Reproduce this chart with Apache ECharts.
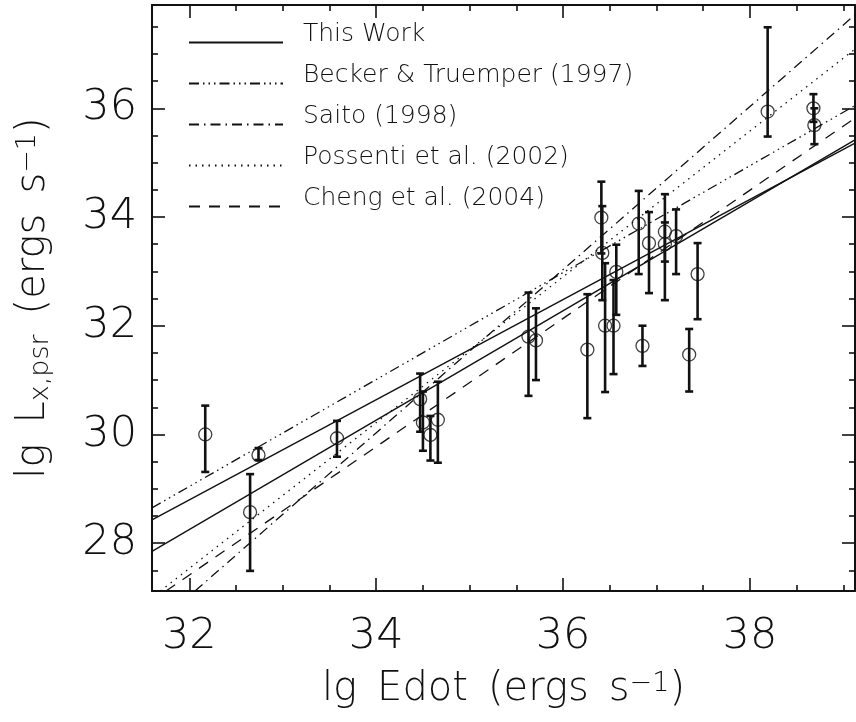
<!DOCTYPE html>
<html><head><meta charset="utf-8">
<script src="https://cdn.jsdelivr.net/npm/echarts@6/dist/echarts.min.js"></script>
<style>html,body{margin:0;padding:0;background:#fff}#c{width:856px;height:722px}</style>
</head><body><div id="c"></div>
<script>
// ---- data points (lg Edot, lg Lx) with error bar bounds ----
const edot   = [32.17, 32.74, 32.65, 33.58, 34.47, 34.50, 34.58, 34.66, 35.63, 35.71, 36.26, 36.41, 36.42, 36.57, 36.45, 36.54, 36.81, 36.92, 36.85, 37.09, 37.09, 37.21, 37.44, 37.35, 38.19, 38.68, 38.69];
const lx     = [30.00, 29.62, 28.57, 29.93, 30.65, 30.22, 29.99, 30.27, 31.80, 31.73, 31.56, 33.99, 33.34, 32.99, 32.00, 32.00, 33.88, 33.52, 31.63, 33.73, 33.50, 33.65, 32.95, 31.47, 35.94, 36.00, 35.69];
const lxLow  = [29.31, 29.53, 27.49, 29.59, 30.05, 29.70, 29.52, 29.48, 30.71, 31.00, 30.30, 33.33, 32.47, 32.20, 30.78, 31.11, 32.95, 32.60, 31.26, 33.18, 32.47, 32.95, 32.12, 30.79, 35.48, 35.75, 35.34];
const lxHigh = [30.53, 29.75, 29.27, 30.25, 31.12, 30.79, 30.34, 30.97, 32.61, 32.32, 32.58, 34.65, 34.20, 33.49, 33.15, 32.84, 34.48, 34.09, 32.00, 34.42, 33.90, 34.14, 33.52, 31.94, 37.49, 36.26, 36.00];

// ---- relation lines, endpoints [lg Edot, lg Lx] ----
const thisWorkA = [[31.6, 28.43], [39.125, 35.36]];
const thisWorkB = [[31.6, 27.85], [39.125, 35.42]];
const becker    = [[31.6, 28.65], [39.125, 36.05]];
const saito     = [[32.06, 27.12], [39.125, 37.72]];
const possenti  = [[31.69, 27.12], [39.125, 37.09]];
const cheng     = [[31.75, 27.12], [39.125, 35.82]];

const legendNames = ['This Work', 'Becker & Truemper (1997)', 'Saito (1998)', 'Possenti et al. (2002)', 'Cheng et al. (2004)'];

// ---- axes ----
const xRange = [31.6, 39.125];
const yRange = [27.12, 37.9];
const xMajorTicks = [32, 34, 36, 38];
const xMinorTicks = [32.5, 33, 33.5, 34.5, 35, 35.5, 36.5, 37, 37.5, 38.5, 39];
const yMajorTicks = [28, 30, 32, 34, 36];
const yMinorTicks = [27.5, 28.5, 29, 29.5, 30.5, 31, 31.5, 32.5, 33, 33.5, 34.5, 35, 35.5, 36.5, 37, 37.5];

const FONT = '"DejaVu Sans"';
const FW = 200;
const ink = '#111';

function axisX(pos, ticks, len, showLine, showLabel, extra) {
  return Object.assign({
    type: 'value', position: pos, min: xRange[0], max: xRange[1],
    axisLine: {show: showLine, onZero: false, lineStyle: {color: ink, width: 2}},
    axisTick: {show: true, inside: true, length: len, customValues: ticks, lineStyle: {color: ink, width: 1.6}},
    axisLabel: showLabel ? {show: true, customValues: ticks, margin: 24, fontSize: 43, fontFamily: FONT, fontWeight: FW, color: ink} : {show: false},
    splitLine: {show: false}
  }, extra || {});
}
function axisY(pos, ticks, len, showLine, showLabel, extra) {
  return Object.assign({
    type: 'value', position: pos, min: yRange[0], max: yRange[1],
    axisLine: {show: showLine, onZero: false, lineStyle: {color: ink, width: 2}},
    axisTick: {show: true, inside: true, length: len, customValues: ticks, lineStyle: {color: ink, width: 1.6}},
    axisLabel: showLabel ? {show: true, customValues: ticks, margin: 15, fontSize: 43, fontFamily: FONT, fontWeight: FW, color: ink} : {show: false},
    splitLine: {show: false}
  }, extra || {});
}

const titleRich = {
  sup: {fontSize: 27, fontFamily: FONT, fontWeight: FW, color: ink, verticalAlign: 'top', lineHeight: 27},
  sub: {fontSize: 27, fontFamily: FONT, fontWeight: FW, color: ink, verticalAlign: 'bottom', lineHeight: 27}
};

const lineBase = {type: 'line', symbol: 'none', showSymbol: false, silent: true, z: 2, xAxisIndex: 0, yAxisIndex: 0};

const option = {
  animation: false,
  backgroundColor: '#fff',
  grid: {left: 152, right: 1, top: 5, bottom: 131, containLabel: false},
  legend: {
    data: legendNames, orient: 'vertical', left: 188, top: 22, padding: 0,
    itemWidth: 94, itemHeight: 14, itemGap: 0, selectedMode: false,
    itemStyle: {color: 'rgba(0,0,0,0)', borderColor: 'rgba(0,0,0,0)', borderWidth: 0, opacity: 0},
    formatter: '{t|{name}}',
    textStyle: {
      fontSize: 25, fontFamily: FONT, fontWeight: FW, color: ink,
      rich: {t: {fontSize: 25, fontFamily: FONT, fontWeight: FW, color: ink, lineHeight: 22, padding: [0, 0, 16, 15]}}
    }
  },
  xAxis: [
    axisX('bottom', xMajorTicks, 13, true, true, {
      name: 'lg\u2002Edot\u2002(ergs\u2002s{sup|−1})', nameLocation: 'middle', nameGap: 79,
      nameTextStyle: {fontSize: 40, fontFamily: FONT, fontWeight: FW, color: ink, rich: titleRich}
    }),
    axisX('bottom', xMinorTicks, 6, false, false),
    axisX('top', xMajorTicks, 13, true, false),
    axisX('top', xMinorTicks, 6, false, false)
  ],
  yAxis: [
    axisY('left', yMajorTicks, 13, true, true, {
      name: 'lg\u2002L{sub|x,psr}\u2002(ergs\u2002s{sup|−1})', nameLocation: 'middle', nameGap: 98, nameRotate: 90,
      nameTextStyle: {fontSize: 40, fontFamily: FONT, fontWeight: FW, color: ink, rich: titleRich}
    }),
    axisY('left', yMinorTicks, 6, false, false),
    axisY('right', yMajorTicks, 13, true, false),
    axisY('right', yMinorTicks, 6, false, false)
  ],
  series: [
    Object.assign({}, lineBase, {name: 'This Work', data: thisWorkA, lineStyle: {color: ink, width: 1.4, type: 'solid'}}),
    Object.assign({}, lineBase, {name: 'This Work', data: thisWorkB, lineStyle: {color: ink, width: 1.4, type: 'solid'}}),
    Object.assign({}, lineBase, {name: 'Becker & Truemper (1997)', data: becker, lineStyle: {color: ink, width: 1.3, type: [10, 4, 1.5, 4, 1.5, 4, 1.5, 4]}}),
    Object.assign({}, lineBase, {name: 'Saito (1998)', data: saito, lineStyle: {color: ink, width: 1.3, type: [10, 5, 1.5, 5]}}),
    Object.assign({}, lineBase, {name: 'Possenti et al. (2002)', data: possenti, lineStyle: {color: ink, width: 1.3, type: [1.5, 5]}}),
    Object.assign({}, lineBase, {name: 'Cheng et al. (2004)', data: cheng, lineStyle: {color: ink, width: 1.3, type: [11, 9]}}),
    {
      type: 'custom', name: 'errors', silent: true, z: 3, xAxisIndex: 0, yAxisIndex: 0,
      dimensions: ['x', 'lo', 'hi'], encode: {x: 0, y: [1, 2]},
      data: edot.map((x, i) => [x, lxLow[i], lxHigh[i]]),
      renderItem: function (params, api) {
        const x = api.value(0);
        const pLo = api.coord([x, api.value(1)]);
        const pHi = api.coord([x, api.value(2)]);
        const hw = 4;
        const st = {stroke: ink, lineWidth: 2.6};
        return {type: 'group', children: [
          {type: 'line', shape: {x1: pLo[0], y1: pLo[1], x2: pHi[0], y2: pHi[1]}, style: st},
          {type: 'line', shape: {x1: pHi[0] - hw, y1: pHi[1], x2: pHi[0] + hw, y2: pHi[1]}, style: st},
          {type: 'line', shape: {x1: pLo[0] - hw, y1: pLo[1], x2: pLo[0] + hw, y2: pLo[1]}, style: st}
        ]};
      }
    },
    {
      type: 'scatter', name: 'points', silent: true, z: 4, xAxisIndex: 0, yAxisIndex: 0,
      data: edot.map((x, i) => [x, lx[i]]),
      symbol: 'circle', symbolSize: 13,
      itemStyle: {color: 'rgba(0,0,0,0)', borderColor: ink, borderWidth: 1.3}
    }
  ]
};

const chart = echarts.init(document.getElementById('c'), null, {renderer: 'canvas'});
chart.setOption(option);
</script>
</body></html>
